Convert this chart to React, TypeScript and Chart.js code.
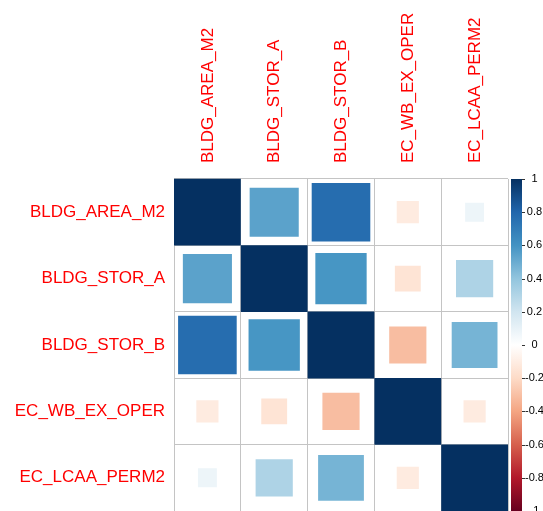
import React, { useEffect, useRef } from 'react';
import { Chart, registerables } from 'chart.js';

Chart.register(...registerables);

const variables = ['BLDG_AREA_M2', 'BLDG_STOR_A', 'BLDG_STOR_B', 'EC_WB_EX_OPER', 'EC_LCAA_PERM2'];

const corrBldgAreaM2 = [1, 0.54, 0.77, -0.11, 0.08];
const corrBldgStorA = [0.54, 1, 0.59, -0.15, 0.31];
const corrBldgStorB = [0.77, 0.59, 1, -0.31, 0.47];
const corrEcWbExOper = [-0.11, -0.15, -0.31, 1, -0.11];
const corrEcLcaaPerm2 = [0.08, 0.31, 0.47, -0.11, 1];

const corrRows = [corrBldgAreaM2, corrBldgStorA, corrBldgStorB, corrEcWbExOper, corrEcLcaaPerm2];

const legendMin = -1;
const legendMax = 1;
const legendStep = 0.2;

// RdBu palette from -1 to 1
const rdbu = ['#67001F', '#B2182B', '#D6604D', '#F4A582', '#FDDBC7', '#FFFFFF', '#D1E5F0', '#92C5DE', '#4393C3', '#2166AC', '#053061'];

function hexToRgb(h: string) {
  return [parseInt(h.slice(1, 3), 16), parseInt(h.slice(3, 5), 16), parseInt(h.slice(5, 7), 16)];
}

function colorFor(v: number) {
  const t = ((v + 1) / 2) * (rdbu.length - 1);
  const i = Math.max(0, Math.min(rdbu.length - 2, Math.floor(t)));
  const f = t - i;
  const a = hexToRgb(rdbu[i]);
  const b = hexToRgb(rdbu[i + 1]);
  const c = a.map((x, k) => Math.round(x + (b[k] - x) * f));
  return `rgb(${c[0]},${c[1]},${c[2]})`;
}

const labelFont = { family: "'Liberation Sans', Arial, sans-serif", size: 17 };

const colorbarPlugin = {
  id: 'colorbar',
  afterDraw(chart: any) {
    const s = chart.scales.y2;
    const ctx = chart.ctx;
    const top = s.getPixelForValue(legendMax);
    const bottom = s.getPixelForValue(legendMin);
    const x0 = s.left + 3;
    const w = 11;
    const g = ctx.createLinearGradient(0, bottom, 0, top);
    rdbu.forEach((c, i) => g.addColorStop(i / (rdbu.length - 1), c));
    ctx.save();
    ctx.fillStyle = g;
    ctx.fillRect(x0, top, w, bottom - top);
    ctx.strokeStyle = '#333';
    ctx.lineWidth = 1;
    ctx.beginPath();
    s.ticks.forEach((t: any) => {
      const y = Math.round(s.getPixelForValue(t.value)) + 0.5;
      ctx.moveTo(x0 + w, y);
      ctx.lineTo(x0 + w + 3, y);
    });
    ctx.stroke();
    ctx.restore();
  },
};

export default function App() {
  const ref = useRef<HTMLCanvasElement | null>(null);

  useEffect(() => {
    if (!ref.current) return;
    const points: any[] = [];
    corrRows.forEach((row, i) => {
      row.forEach((v, j) => {
        points.push({ x: variables[j], y: variables[i], v });
      });
    });

    const chart = new Chart(ref.current, {
      type: 'scatter',
      data: {
        datasets: [
          {
            data: points,
            pointStyle: 'rect',
            backgroundColor: (ctx: any) => colorFor(ctx.raw ? ctx.raw.v : 0),
            borderWidth: 0,
            pointBorderWidth: 0,
            pointRadius: (ctx: any) => {
              const xs = ctx.chart.scales.x;
              if (!xs || !ctx.raw) return 0;
              const cell = xs.width / variables.length;
              return (cell * Math.sqrt(Math.abs(ctx.raw.v))) / Math.SQRT2;
            },
            pointHoverRadius: 0,
          } as any,
        ],
      },
      plugins: [colorbarPlugin],
      options: {
        animation: false,
        responsive: false,
        events: [],
        layout: { padding: 0 },
        plugins: { legend: { display: false }, tooltip: { enabled: false } },
        scales: {
          x: {
            type: 'category',
            labels: variables,
            position: 'top',
            offset: true,
            grid: { offset: true, color: '#c4c4c4', lineWidth: 1, drawTicks: false },
            border: { display: false },
            ticks: {
              color: '#ff0000',
              font: labelFont,
              minRotation: 90,
              maxRotation: 90,
              padding: 16,
              labelOffset: 21,
              autoSkip: false,
            },
            afterFit: (s: any) => {
              s.height = 179;
              s.paddingLeft = 0;
              s.paddingRight = 0;
            },
          },
          y: {
            type: 'category',
            labels: variables,
            position: 'left',
            offset: true,
            grid: { offset: true, color: '#c4c4c4', lineWidth: 1, drawTicks: false },
            border: { display: false },
            ticks: { color: '#ff0000', font: labelFont, padding: 9, autoSkip: false },
            afterFit: (s: any) => {
              s.width = 174;
              s.paddingTop = 0;
              s.paddingBottom = 0;
            },
          },
          y2: {
            type: 'linear',
            position: 'right',
            min: legendMin,
            max: legendMax,
            grid: { display: false, drawTicks: false },
            border: { display: false },
            ticks: {
              stepSize: legendStep,
              color: '#000',
              font: { family: "'Liberation Sans', Arial, sans-serif", size: 11 },
              crossAlign: 'center',
              padding: 17,
              autoSkip: false,
              callback: (v: any) => String(Math.round(Number(v) * 10) / 10),
            },
            afterFit: (s: any) => {
              s.width = 35;
              s.paddingTop = 0;
              s.paddingBottom = 0;
            },
          },
        },
      } as any,
    });
    return () => chart.destroy();
  }, []);

  return (
    <div style={{ position: 'fixed', left: 0, top: 0, width: 543, height: 511, background: '#fff' }}>
      <canvas ref={ref} width={543} height={511} style={{ display: 'block' }} />
    </div>
  );
}
